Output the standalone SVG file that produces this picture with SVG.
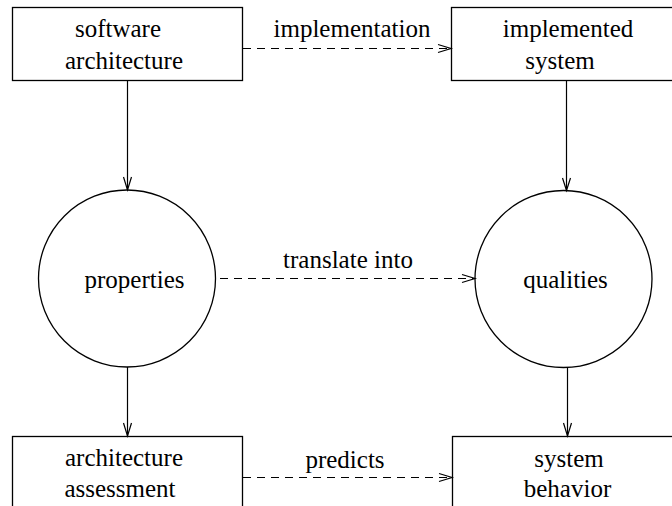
<svg xmlns="http://www.w3.org/2000/svg" width="672" height="506" viewBox="0 0 672 506">
<style>
.box{fill:#fff;stroke:#000;stroke-width:1.3}
text{font-family:"Liberation Serif","DejaVu Serif","Noto Serif",Times,serif;font-size:25px;fill:#000;text-anchor:middle}
.solid{stroke:#000;stroke-width:1.2;fill:none}
.dash{stroke:#000;stroke-width:1.2;fill:none;stroke-dasharray:8 6}
.ah{stroke:#000;stroke-width:1.2;fill:none}
</style>
<rect width="672" height="506" fill="#fff"/>
<g id="software-architecture">
<rect class="box" x="12.5" y="7.5" width="230" height="73"/>
<text x="118" y="37" font-family="Liberation Serif">software</text>
<text x="124" y="69" font-family="Liberation Serif">architecture</text>
</g>
<g id="implemented-system">
<rect class="box" x="451.5" y="7.5" width="230" height="73"/>
<text x="568" y="37" font-family="Liberation Serif">implemented</text>
<text x="560" y="69" font-family="Liberation Serif">system</text>
</g>
<g id="properties">
<circle class="box" cx="127" cy="278.5" r="88.5"/>
<text x="134.5" y="288" font-family="Liberation Serif">properties</text>
</g>
<g id="qualities">
<circle class="box" cx="563.5" cy="279" r="88.5"/>
<text x="565.5" y="288" font-family="Liberation Serif">qualities</text>
</g>
<g id="architecture-assessment">
<rect class="box" x="12.5" y="436.5" width="230" height="90"/>
<text x="124" y="466" font-family="Liberation Serif">architecture</text>
<text x="120" y="497" font-family="Liberation Serif">assessment</text>
</g>
<g id="system-behavior">
<rect class="box" x="452.5" y="436.5" width="230" height="90"/>
<text x="569" y="467" font-family="Liberation Serif">system</text>
<text x="567.5" y="497" font-family="Liberation Serif">behavior</text>
</g>
<g id="connectors">
<line class="solid" x1="127.5" y1="81" x2="127.5" y2="190"/>
<path class="ah" d="M123.5,177 L127.5,190 L131.5,177"/>
<line class="solid" x1="566.5" y1="81" x2="566.5" y2="190.5"/>
<path class="ah" d="M562.5,178 L566.5,190.5 L570.5,178"/>
<line class="solid" x1="127.5" y1="367" x2="127.5" y2="436"/>
<path class="ah" d="M123.5,423 L127.5,436 L131.5,423"/>
<line class="solid" x1="567.5" y1="368" x2="567.5" y2="436"/>
<path class="ah" d="M563.5,423 L567.5,436 L571.5,423"/>
<line class="dash" x1="243" y1="48.5" x2="451" y2="48.5"/>
<path class="ah" d="M438,44.5 L451,48.5 L438,52.5"/>
<text x="352" y="37" font-family="Liberation Serif">implementation</text>
<line class="dash" x1="220" y1="278.5" x2="475" y2="278.5"/>
<path class="ah" d="M462,274.5 L475,278.5 L462,282.5"/>
<text x="348" y="268" font-family="Liberation Serif">translate into</text>
<line class="dash" x1="243" y1="477.5" x2="452" y2="477.5"/>
<path class="ah" d="M439,473.5 L452,477.5 L439,481.5"/>
<text x="345" y="468" font-family="Liberation Serif">predicts</text>
</g>
</svg>
